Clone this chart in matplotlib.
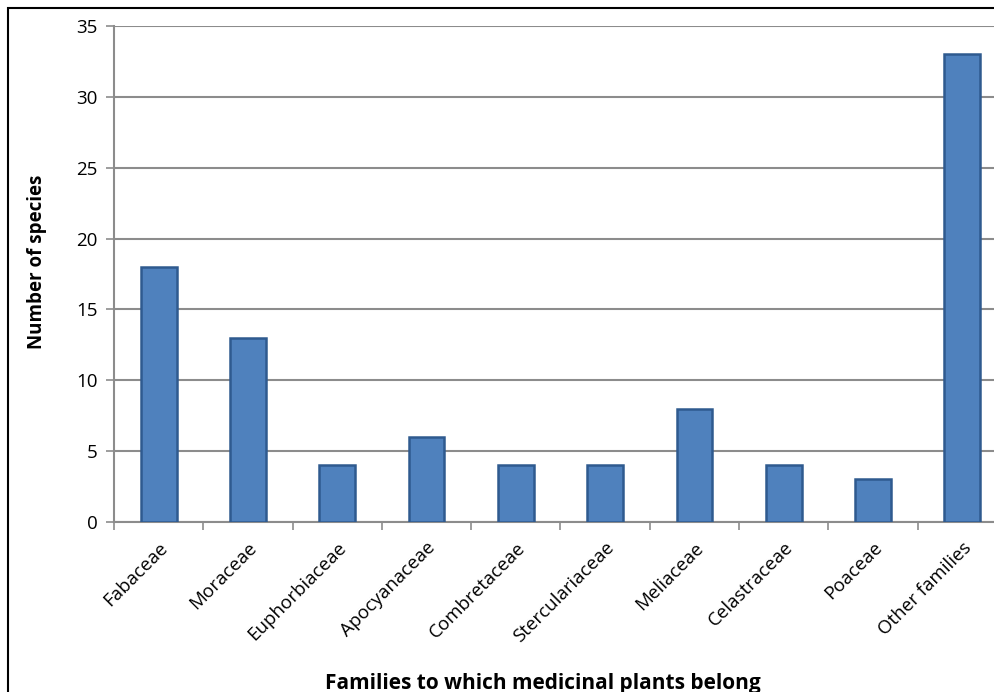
import matplotlib.pyplot as plt
from matplotlib.patches import Rectangle
import numpy as np

families = ["Fabaceae", "Moraceae", "Euphorbiaceae", "Apocyanaceae", "Combretaceae",
            "Sterculariaceae", "Meliaceae", "Celastraceae", "Poaceae", "Other families"]
species = [18, 13, 4, 6, 4, 4, 8, 4, 3, 33]

plt.rcParams["font.family"] = ["Open Sans", "DejaVu Sans"]

fig = plt.figure(figsize=(9.95, 6.92), dpi=100)
ax = fig.add_axes([114 / 995, 1 - 522 / 692, 893 / 995, 496 / 692])

x = np.arange(len(families))
ax.bar(x, species, width=0.4, color="#4F81BD", edgecolor="#2F5A8F", linewidth=1.8, zorder=3)

ax.set_xlim(-0.5, len(families) - 0.5)
ax.set_ylim(0, 35)
ax.set_yticks(range(0, 36, 5))
ax.yaxis.grid(True, color="#8C8C8C", linewidth=1.5, zorder=0)
ax.tick_params(axis="y", labelsize=13.5, length=6, width=1.2, color="#8C8C8C", pad=6)

# category ticks sit between bars, labels under the bar centres
ax.set_xticks(np.arange(-0.5, len(families), 1.0))
ax.set_xticklabels([])
ax.set_xticks(x, minor=True)
ax.set_xticklabels(families, minor=True, rotation=45, ha="right", rotation_mode="anchor", fontsize=13.5)
ax.tick_params(axis="x", which="major", length=6, width=1.2, color="#8C8C8C")
ax.tick_params(axis="x", which="minor", length=0, pad=12)

for s in ["top", "right"]:
    ax.spines[s].set_visible(False)
for s in ["left", "bottom"]:
    ax.spines[s].set_color("#8C8C8C")
    ax.spines[s].set_linewidth(1.5)

fig.text(37 / 995, 1 - 262 / 692, "Number of species", rotation=90,
         fontsize=13.5, fontweight="bold", ha="center", va="center")
fig.text(543 / 995, 1 - 683 / 692, "Families to which medicinal plants belong",
         fontsize=15, fontweight="bold", ha="center", va="center")

fig.patches.append(Rectangle((8 / 995, -0.05), 1.1, 1 - 8 / 692 + 0.05,
                             transform=fig.transFigure, fill=False,
                             edgecolor="black", linewidth=1.5))

fig.savefig("out.png", dpi=100)
